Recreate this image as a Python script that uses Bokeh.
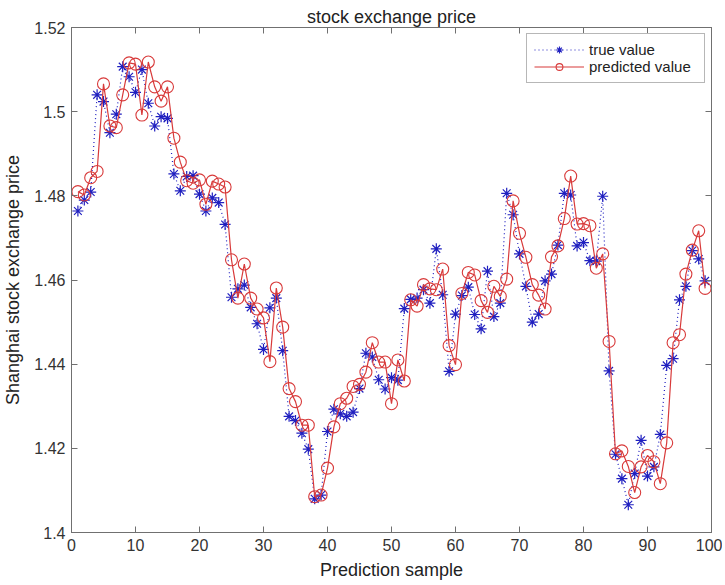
from bokeh.plotting import figure
from bokeh.models import LinearAxis, FixedTicker, Range1d, Legend, LegendItem
from bokeh.embed import file_html
from bokeh.resources import INLINE

sample = list(range(1, 100))
true_value = [
    1.4764, 1.4790, 1.4809, 1.5040, 1.5024, 1.4950, 1.4994, 1.5107, 1.5083, 1.5046,
    1.5100, 1.5020, 1.4966, 1.4988, 1.4984, 1.4852, 1.4812, 1.4846, 1.4848, 1.4804,
    1.4764, 1.4795, 1.4784, 1.4732, 1.4559, 1.4579, 1.4588, 1.4535, 1.4496, 1.4435,
    1.4534, 1.4557, 1.4432, 1.4276, 1.4266, 1.4236, 1.4198, 1.4080, 1.4089, 1.4240,
    1.4293, 1.4282, 1.4276, 1.4286, 1.4342, 1.4426, 1.4417, 1.4363, 1.4341, 1.4368,
    1.4362, 1.4532, 1.4554, 1.4557, 1.4577, 1.4545, 1.4674, 1.4565, 1.4383, 1.4519,
    1.4563, 1.4583, 1.4518, 1.4484, 1.4621, 1.4513, 1.4545, 1.4806, 1.4755, 1.4662,
    1.4585, 1.4500, 1.4519, 1.4598, 1.4614, 1.4683, 1.4806, 1.4802, 1.4681, 1.4689,
    1.4646, 1.4645, 1.4799, 1.4384, 1.4186, 1.4128, 1.4066, 1.4140, 1.4219, 1.4134,
    1.4156, 1.4233, 1.4397, 1.4413, 1.4553, 1.4585, 1.4670, 1.4650, 1.4598,
]
predicted_value = [
    1.4810, 1.4802, 1.4843, 1.4858, 1.5066, 1.4966, 1.4962, 1.5040, 1.5116, 1.5113,
    1.4992, 1.5118, 1.5059, 1.5025, 1.5059, 1.4937, 1.4880, 1.4836, 1.4830, 1.4838,
    1.4780, 1.4835, 1.4828, 1.4821, 1.4648, 1.4557, 1.4638, 1.4557, 1.4531, 1.4510,
    1.4406, 1.4581, 1.4488, 1.4342, 1.4311, 1.4255, 1.4255, 1.4085, 1.4089, 1.4153,
    1.4251, 1.4306, 1.4319, 1.4347, 1.4352, 1.4381, 1.4451, 1.4405, 1.4405, 1.4306,
    1.4410, 1.4360, 1.4553, 1.4538, 1.4589, 1.4579, 1.4577, 1.4626, 1.4444, 1.4399,
    1.4568, 1.4618, 1.4612, 1.4551, 1.4523, 1.4585, 1.4561, 1.4602, 1.4788, 1.4711,
    1.4654, 1.4589, 1.4564, 1.4531, 1.4655, 1.4681, 1.4746, 1.4847, 1.4733, 1.4734,
    1.4729, 1.4628, 1.4662, 1.4454, 1.4187, 1.4194, 1.4157, 1.4095, 1.4156, 1.4183,
    1.4168, 1.4116, 1.4213, 1.4451, 1.4470, 1.4614, 1.4671, 1.4717, 1.4580,
]
x_ticks = [0, 10, 20, 30, 40, 50, 60, 70, 80, 90, 100]
y_ticks = [1.4, 1.42, 1.44, 1.46, 1.48, 1.5, 1.52]
y_tick_labels = {1.4: "1.4", 1.42: "1.42", 1.44: "1.44", 1.46: "1.46", 1.48: "1.48", 1.5: "1.5", 1.52: "1.52"}

FONT = "Liberation Sans"
AX = "#707070"
BLUE = "#2020c0"
RED = "#d83a3a"

p = figure(width=722, height=582, x_range=Range1d(0, 100), y_range=Range1d(1.4, 1.52),
           output_backend="svg", toolbar_location=None,
           min_border_left=68, min_border_right=11, min_border_top=27, min_border_bottom=49,
           title="stock exchange price")
p.title.text_font = FONT
p.title.text_font_size = "18px"
p.title.text_font_style = "normal"
p.title.align = "center"
p.title.text_color = "#222222"
p.title.standoff = 2
p.xgrid.visible = False
p.ygrid.visible = False
p.outline_line_color = AX
p.background_fill_color = "white"
p.border_fill_color = "white"

for ax in (p.xaxis[0], p.yaxis[0]):
    ax.axis_line_color = AX
    ax.major_tick_line_color = AX
    ax.major_tick_in = 6
    ax.major_tick_out = 0
    ax.minor_tick_line_color = None
    ax.major_label_text_font = FONT
    ax.major_label_text_font_size = "16px"
    ax.major_label_text_color = "#333333"
    ax.axis_label_text_font = FONT
    ax.axis_label_text_font_size = "18px"
    ax.axis_label_text_font_style = "normal"
    ax.axis_label_text_color = "#222222"

p.xaxis[0].major_label_standoff = 6
p.xaxis[0].axis_label_standoff = 6
p.yaxis[0].major_label_standoff = 6
p.yaxis[0].axis_label_standoff = 8

p.xaxis[0].ticker = FixedTicker(ticks=x_ticks)
p.yaxis[0].ticker = FixedTicker(ticks=y_ticks)
p.yaxis[0].major_label_overrides = y_tick_labels
p.xaxis[0].axis_label = "Prediction sample"
p.yaxis[0].axis_label = "Shanghai stock exchange price"

top = LinearAxis(ticker=FixedTicker(ticks=x_ticks), major_label_text_color=None,
                 major_label_text_alpha=0, major_label_text_font_size="1px",
                 major_tick_in=6, major_tick_out=0, minor_tick_line_color=None,
                 axis_line_color=AX, major_tick_line_color=AX, major_label_standoff=0)
right = LinearAxis(ticker=FixedTicker(ticks=y_ticks), major_label_text_color=None,
                   major_label_text_alpha=0, major_label_text_font_size="1px",
                   major_tick_in=6, major_tick_out=0, minor_tick_line_color=None,
                   axis_line_color=AX, major_tick_line_color=AX, major_label_standoff=0)
p.add_layout(top, "above")
p.add_layout(right, "right")

l1 = p.line(sample, true_value, line_color=BLUE, line_dash="1 3", line_width=1.2)
s1 = p.scatter(sample, true_value, marker="asterisk", size=11, line_color=BLUE, line_width=1.2)
l2 = p.line(sample, predicted_value, line_color=RED, line_width=1.2)
s2 = p.scatter(sample, predicted_value, marker="circle", size=12, line_color=RED,
               fill_color=None, line_width=1.1)

legend = Legend(items=[LegendItem(label="true value", renderers=[l1, s1]),
                       LegendItem(label="predicted value", renderers=[l2, s2])],
                location="top_right")
legend.label_text_font = FONT
legend.label_text_font_size = "15px"
legend.label_text_color = "#222222"
legend.glyph_width = 50
legend.glyph_height = 17
legend.label_height = 17
legend.label_width = 108
legend.spacing = 0
legend.padding = 7
legend.margin = 6
legend.label_standoff = 5
legend.border_line_color = AX
legend.border_line_width = 1
p.add_layout(legend, "center")

open("out.html", "w").write(file_html(p, INLINE))
